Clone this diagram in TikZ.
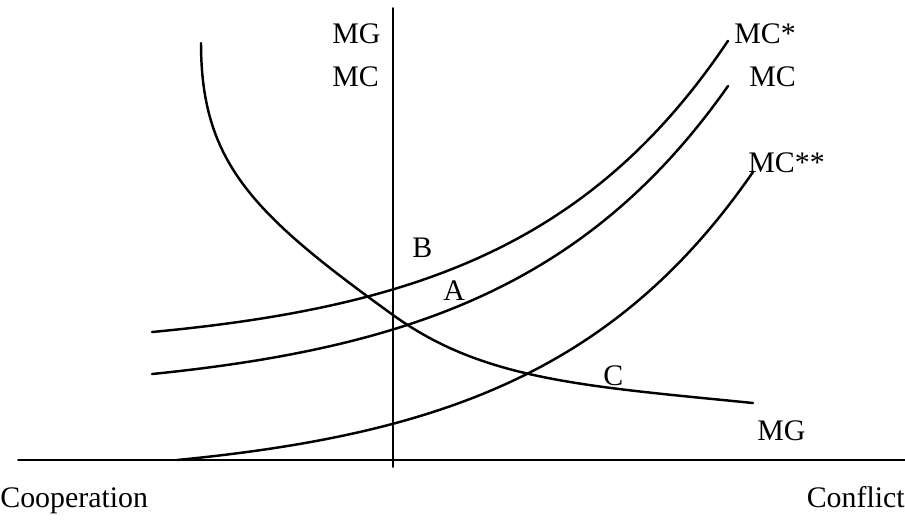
\documentclass[tikz,border=0pt]{standalone}
\usepackage{fontspec}
\setmainfont{Liberation Serif}
\begin{document}
\begin{tikzpicture}[x=0.02cm,y=-0.02cm,line join=round,line cap=round,
	every node/.style={font=\fontsize{17}{20}\selectfont,inner sep=0pt,anchor=base west},
	curve/.style={line width=1.4pt,smooth,samples=120},
	declare function={mcs(\x)=351.5-19.5*exp(0.0048*(\x-152));
		mc(\x)=396-22*exp(0.0046*(\x-152));
		mcss(\x)=480.6-20.6*exp(0.0047*(\x-177));}]
	\useasboundingbox (0,0) rectangle (905,522);
	\path
	(18,460) coordinate (L)
	(905,460) coordinate (R)
	(393,8) coordinate (T)
	(393,467) coordinate (O)
	(201,43) coordinate (G1)
	(393,315) coordinate (G2)
	(753,403) coordinate (G3);
	% axes
	\draw[line width=0.9pt] (L) -- (R);
	\draw[line width=0.9pt] (O) -- (T);
	% marginal gain
	\draw[line width=1.4pt] (G1) .. controls (201,163) and (253,214) .. (G2)
		.. controls (483,380) and (583,386) .. (G3);
	% marginal cost curves
	\draw[curve,domain=152:728] plot (\x,{mcs(\x)});
	\draw[curve,domain=152:728] plot (\x,{mc(\x)});
	\draw[curve,domain=177:753] plot (\x,{mcss(\x)});
	% labels
	\node (mgAxis) at (332,43) {MG};
	\node (mcAxis) at (332,86) {MC};
	\node (mcStar) at (734,43) {MC*};
	\node (mcBase) at (749,86) {MC};
	\node (mcDouble) at (748,172) {MC**};
	\node (mgEnd) at (757,440) {MG};
	\node (ptB) at (412,257) {B};
	\node (ptA) at (443,300) {A};
	\node (ptC) at (603,385) {C};
	\node (coop) at (0,507) {Cooperation};
	\node[anchor=base east] (conf) at (905,507) {Conflict};
\end{tikzpicture}
\end{document}
